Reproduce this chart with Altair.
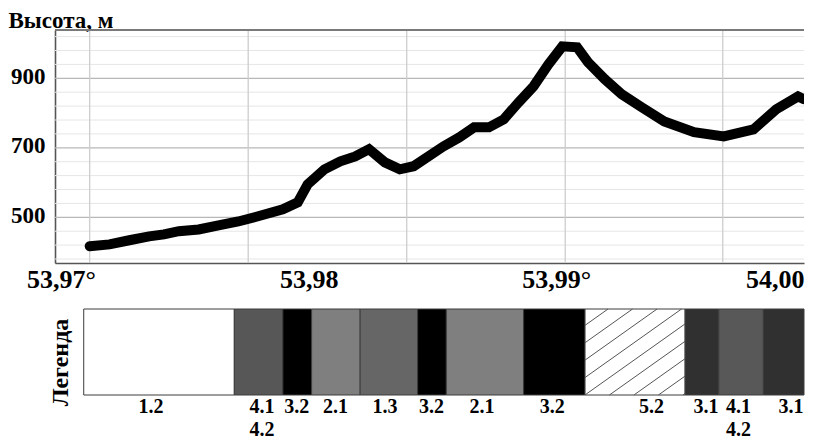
import altair as alt
import pandas as pd

# ---------------- data ----------------
LAT = [53.97116, 53.97196, 53.97276, 53.97356, 53.97416, 53.97476, 53.97556, 53.97636,
       53.97716, 53.97796, 53.97896, 53.97956, 53.97996, 53.98064, 53.98128, 53.98188,
       53.98244, 53.98308, 53.98368, 53.98424, 53.98544, 53.98608, 53.98668, 53.98728,
       53.98788, 53.98848, 53.98908, 53.98968, 53.99024, 53.99084, 53.99128, 53.99196,
       53.99264, 53.99344, 53.99436, 53.99556, 53.99676, 53.99796, 53.99888, 53.99976,
       54.00000]
ELEV = [417, 422, 434, 445, 451, 460, 465, 477,
        488, 503, 523, 543, 595, 638, 661, 675,
        696, 658, 638, 647, 704, 730, 759, 759,
        782, 831, 877, 940, 992, 989, 946, 897,
        854, 817, 776, 745, 733, 753, 811, 848,
        840]

X_DOMAIN = [53.96976, 54.0]
Y_DOMAIN = [368.5, 1039]
X_TICKS = [53.97, 53.98, 53.99, 54.00]
X_LABELS = ["53,97°", "53,98", "53,99°", "54,00"]
Y_TICKS = [500, 700, 900]
V_GRID = [53.97116, 53.97756, 53.98396, 53.99036, 53.99672]
H_MAJOR = [500, 700, 900]
H_MINOR = [380, 420, 460, 540, 580, 620, 660, 740, 780, 820, 860, 940, 980, 1020]

SEG_BOUNDS = [53.97092, 53.97700, 53.97896, 53.98012, 53.98208, 53.98440, 53.98556,
              53.98868, 53.99116, 53.99520, 53.99656, 53.99836, 54.00000]
SEG_CODE = ["1.2", "4.1", "3.2", "2.1", "1.3", "3.2", "2.1", "3.2", "5.2", "3.1", "4.1", "3.1"]
SEG_COLOR = ["#ffffff", "#575757", "#000000", "#7f7f7f", "#666666", "#000000", "#7f7f7f",
             "#000000", "#ffffff", "#303030", "#585858", "#303030"]
LABEL_X = [53.97364, 53.97812, 53.97952, 53.98108, 53.98308, 53.98496, 53.98700,
           53.98984, 53.99384, 53.99604, 53.99736, 53.99948]
LABEL_TEXT = ["1.2", "4.1", "3.2", "2.1", "1.3", "3.2", "2.1", "3.2", "5.2", "3.1", "4.1", "3.1"]
LABEL2_X = [53.97812, 53.99736]
LABEL2_TEXT = ["4.2", "4.2"]
HATCH_SEGMENT = "5.2"

# ---------------- style ----------------
FONT = "Liberation Serif"
W, H_TOP, H_BOT = 749, 233, 86

xs = alt.Scale(domain=X_DOMAIN, nice=False, zero=False)
ys = alt.Scale(domain=Y_DOMAIN, nice=False, zero=False)

label_expr = " : ".join(
    f"abs(datum.value - {v}) < 0.000001 ? '{l}'" for v, l in zip(X_TICKS, X_LABELS)
) + " : ''"

AX_X = alt.Axis(
    values=X_TICKS, labelExpr=label_expr, title=None, ticks=False, grid=False,
    labelFont=FONT, labelFontSize=26, labelFontWeight="bold", labelColor="black",
    labelPadding=3, labelFlush=True, labelOverlap=False,
    domainColor="#555555", domainWidth=1.6)
AX_Y = alt.Axis(
    values=Y_TICKS, format="d", ticks=False, grid=False,
    labelFont=FONT, labelFontSize=23, labelFontWeight="bold", labelColor="black",
    labelPadding=10, labelOffset=-2,
    domainColor="#555555", domainWidth=1.6,
    title="Высота, м", titleAngle=0, titleAlign="left", titleBaseline="alphabetic",
    titleX=-47, titleY=-3, titleFont=FONT, titleFontSize=23, titleFontWeight="bold",
    titleColor="black")

minor = alt.Chart(pd.DataFrame({"elev": H_MINOR})).mark_rule(
    color="#e6e6e6", strokeWidth=1).encode(y=alt.Y("elev:Q", scale=ys, axis=AX_Y))
major = alt.Chart(pd.DataFrame({"elev": H_MAJOR})).mark_rule(
    color="#b8b8b8", strokeWidth=1.3).encode(y=alt.Y("elev:Q", scale=ys, axis=AX_Y))
vgrid = alt.Chart(pd.DataFrame({"lat": V_GRID})).mark_rule(
    color="#cdcdcd", strokeWidth=1.3).encode(x=alt.X("lat:Q", scale=xs, axis=AX_X))
border = alt.Chart(pd.DataFrame({"elev": [Y_DOMAIN[1]]})).mark_rule(
    color="#7a7a7a", strokeWidth=2).encode(y=alt.Y("elev:Q", scale=ys, axis=AX_Y))

line = alt.Chart(pd.DataFrame({"lat": LAT, "elev": ELEV})).mark_line(
    color="black", strokeWidth=10, strokeCap="round", strokeJoin="miter", clip=True
).encode(
    x=alt.X("lat:Q", scale=xs, axis=AX_X),
    y=alt.Y("elev:Q", scale=ys, axis=AX_Y),
)

top = alt.layer(minor, major, vgrid, border, line).properties(width=W, height=H_TOP)

# ---------------- legend strip ----------------
bs = alt.Scale(domain=[0, 1], nice=False, zero=False)
AX_LEG = alt.Axis(
    labels=False, ticks=False, domain=False, grid=False,
    title="Легенда", titleAngle=270, titleAlign="center", titleBaseline="middle",
    titleX=5, titleY=53, titleFont=FONT, titleFontSize=24, titleFontWeight="bold",
    titleColor="black")

segs = pd.DataFrame({
    "x0": SEG_BOUNDS[:-1], "x1": SEG_BOUNDS[1:], "code": SEG_CODE, "color": SEG_COLOR,
    "y0": 0, "y1": 1,
})

rects = alt.Chart(segs).mark_rect(stroke="#3c3c3c", strokeWidth=1).encode(
    x=alt.X("x0:Q", scale=xs, axis=None),
    x2="x1:Q",
    y=alt.Y("y0:Q", scale=bs, axis=AX_LEG),
    y2="y1:Q",
    color=alt.Color("color:N", scale=None),
)

# hatch lines for the hatched segment (pure styling, derived from its bounds)
px_per_deg = W / (X_DOMAIN[1] - X_DOMAIN[0])
i = SEG_CODE.index(HATCH_SEGMENT)
xa, xb = SEG_BOUNDS[i], SEG_BOUNDS[i + 1]
wa = (xb - xa) * px_per_deg
slope, step, first = 0.71, 24.5, 23.0
hatch = []
k = 0
while True:
    xt = first + step * k
    if xt - H_BOT / slope > wa:
        break
    t_lo = max(0.0, (xt - wa) * slope)
    t_hi = min(float(H_BOT), xt * slope)
    if t_lo < t_hi:
        hatch.append({
            "hx": xa + (xt - t_lo / slope) / px_per_deg,
            "hx2": xa + (xt - t_hi / slope) / px_per_deg,
            "hy": 1 - t_lo / H_BOT,
            "hy2": 1 - t_hi / H_BOT,
        })
    k += 1

hatch_layer = alt.Chart(pd.DataFrame(hatch)).mark_rule(color="#555555", strokeWidth=1).encode(
    x=alt.X("hx:Q", scale=xs, axis=None), x2="hx2:Q",
    y=alt.Y("hy:Q", scale=bs, axis=AX_LEG), y2="hy2:Q",
)

txt_style = dict(font=FONT, fontSize=20, fontWeight="bold", color="black",
                 align="center", baseline="middle")
row1 = alt.Chart(pd.DataFrame({"lx": LABEL_X, "t": LABEL_TEXT, "ly": 0})).mark_text(
    dy=12, **txt_style).encode(
    x=alt.X("lx:Q", scale=xs, axis=None), y=alt.Y("ly:Q", scale=bs, axis=AX_LEG), text="t:N")
row2 = alt.Chart(pd.DataFrame({"lx": LABEL2_X, "t": LABEL2_TEXT, "ly": 0})).mark_text(
    dy=35, **txt_style).encode(
    x=alt.X("lx:Q", scale=xs, axis=None), y=alt.Y("ly:Q", scale=bs, axis=AX_LEG), text="t:N")

bottom = alt.layer(rects, hatch_layer, row1, row2).properties(width=W, height=H_BOT)

chart = alt.vconcat(top, bottom, spacing=46, bounds="flush").properties(
    padding={"left": 0, "top": 1, "right": 0, "bottom": 0},
    background="white",
).configure_view(stroke=None)

chart.save("out.html", embed_options={"renderer": "svg", "actions": False})
